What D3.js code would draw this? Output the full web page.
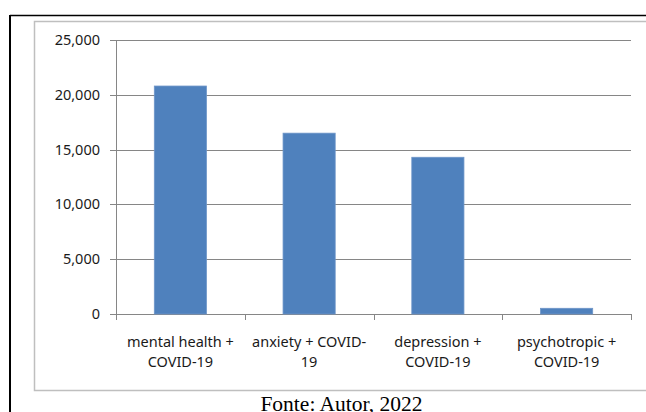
<!DOCTYPE html>
<html>
<head>
<meta charset="utf-8">
<script src="https://cdn.jsdelivr.net/npm/d3@7"></script>
<style>
  html, body { margin: 0; padding: 0; background: #fff; }
  svg { display: block; }
</style>
</head>
<body>
<div id="chart"></div>
<script>
const categories = [
    ["mental health +", "COVID-19"],
    ["anxiety + COVID-", "19"],
    ["depression +", "COVID-19"],
    ["psychotropic +", "COVID-19"]
];
const values = [20800, 16500, 14300, 520];
const yTicks = [0, 5000, 10000, 15000, 20000, 25000];
const caption = "Fonte: Autor, 2022";

const width = 646;
const height = 412;
const plot = { left: 116, top: 40, right: 631, bottom: 314 };

const svg = d3.select("#chart").append("svg")
    .attr("width", width)
    .attr("height", height)
    .style("font-family", "'Noto Sans', sans-serif");

// outer page frame
svg.append("line")
    .attr("x1", 10).attr("x2", width).attr("y1", 15.5).attr("y2", 15.5)
    .attr("stroke", "#000").attr("stroke-width", 1.5);
svg.append("line")
    .attr("x1", 10).attr("x2", 10).attr("y1", 15).attr("y2", height)
    .attr("stroke", "#000").attr("stroke-width", 2);

// chart area border
svg.append("rect")
    .attr("x", 34.5).attr("y", 21.5)
    .attr("width", 700).attr("height", 369)
    .attr("fill", "none")
    .attr("stroke", "#bfbfbf").attr("stroke-width", 1.5);

const x = d3.scaleBand()
    .domain(d3.range(categories.length))
    .range([plot.left, plot.right])
    .padding(0);

const y = d3.scaleLinear()
    .domain([0, 25000])
    .range([plot.bottom, plot.top]);

const g = svg.append("g");

// gridlines + y ticks
g.selectAll("line.grid")
    .data(yTicks)
    .join("line")
    .attr("class", "grid")
    .attr("x1", plot.left - 6)
    .attr("x2", plot.right)
    .attr("y1", d => Math.round(y(d)) + 0.5)
    .attr("y2", d => Math.round(y(d)) + 0.5)
    .attr("stroke", "#868686");

g.selectAll("text.ylab")
    .data(yTicks)
    .join("text")
    .attr("class", "ylab")
    .attr("x", plot.left - 16)
    .attr("y", d => y(d))
    .attr("dy", "0.35em")
    .attr("text-anchor", "end")
    .attr("font-size", 14.5)
    .attr("fill", "#1a1a1a")
    .text(d => d3.format(",")(d));

// y axis line
g.append("line")
    .attr("x1", plot.left + 0.5).attr("x2", plot.left + 0.5)
    .attr("y1", plot.top).attr("y2", plot.bottom)
    .attr("stroke", "#868686");

// x category ticks
const bounds = d3.range(categories.length + 1).map(i => i < categories.length ? x(i) : plot.right);
g.selectAll("line.xtick")
    .data(bounds)
    .join("line")
    .attr("class", "xtick")
    .attr("x1", d => Math.round(d) + 0.5)
    .attr("x2", d => Math.round(d) + 0.5)
    .attr("y1", plot.bottom)
    .attr("y2", plot.bottom + 6)
    .attr("stroke", "#868686");

// bars
const barW = x.bandwidth() * 0.405;
g.selectAll("rect.bar")
    .data(values)
    .join("rect")
    .attr("class", "bar")
    .attr("x", (d, i) => x(i) + (x.bandwidth() - barW) / 2)
    .attr("y", d => y(d))
    .attr("width", barW)
    .attr("height", d => plot.bottom - y(d))
    .attr("fill", "#4f81bd")
    .attr("stroke", "#6d95c8")
    .attr("stroke-width", 0.8);

// x labels
const xl = g.selectAll("text.xlab")
    .data(categories)
    .join("text")
    .attr("class", "xlab")
    .attr("text-anchor", "middle")
    .attr("font-size", 14.5)
    .attr("fill", "#1a1a1a")
    .attr("transform", (d, i) => `translate(${x(i) + x.bandwidth() / 2},${plot.bottom + 33})`);
xl.selectAll("tspan")
    .data(d => d)
    .join("tspan")
    .attr("x", 0)
    .attr("y", (d, i) => i * 20)
    .text(d => d);

// caption
svg.append("text")
    .attr("x", 341.5)
    .attr("y", 411)
    .attr("text-anchor", "middle")
    .attr("font-family", "'Liberation Serif', 'Times New Roman', serif")
    .attr("font-size", 21.5)
    .attr("fill", "#000")
    .text(caption);
</script>
</body>
</html>
